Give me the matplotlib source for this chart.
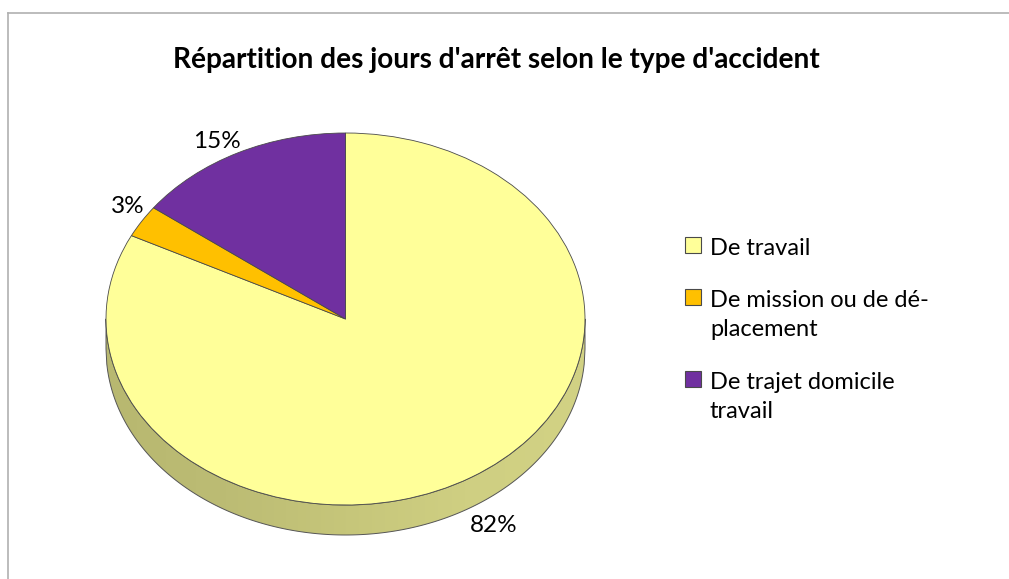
import numpy as np
import matplotlib
matplotlib.use("Agg")
import matplotlib.pyplot as plt
from matplotlib.patches import Rectangle
from matplotlib.colors import LinearSegmentedColormap

title = "Répartition des jours d'arrêt selon le type d'accident"
categories = ["De travail", "De mission ou de dé-\nplacement", "De trajet domicile\ntravail"]
values = [82.4, 2.8, 14.8]
colors = ["#ffff99", "#ffc000", "#7030a0"]

W, H = 1009, 579
CX, CY, RX, RY, DEPTH = 345.5, 319, 239.5, 186, 30


def px(x, y):
    # pixel position to figure fraction
    return x / W, 1 - y / H


plt.rcParams["font.family"] = ["Lato", "DejaVu Sans"]

fig = plt.figure(figsize=(W / 100, H / 100), dpi=100)
ax = fig.add_axes([0, 0, 1, 1])

# side of the pie, gradient clipped to the band under the top ellipse
xs = np.linspace(-1, 1, 600)
low = -np.sqrt(1 - xs ** 2)
d = DEPTH / RY
band = ax.fill_between(xs, low, low - d, facecolor="none", edgecolor="#555555", linewidth=0.7, zorder=1)
side_cmap = LinearSegmentedColormap.from_list("side", ["#b8b870", "#bcbc74", "#c6c67a", "#cfcf82", "#d2d284"])
grad = ax.imshow(np.linspace(0, 1, 256).reshape(1, -1), cmap=side_cmap, extent=[-1, 1, -1 - d, 0],
                 aspect="auto", zorder=0.5)
grad.set_clip_path(band.get_paths()[0], transform=ax.transData)

# top of the pie, clockwise from twelve o'clock
wedges, _ = ax.pie(values, colors=colors, startangle=90, counterclock=False, radius=1,
                   wedgeprops={"edgecolor": "#4a4a4a", "linewidth": 0.6, "zorder": 2})

ax.set_aspect("auto")
ax.set_xlim(-CX / RX, (W - CX) / RX)
ax.set_ylim((CY - H) / RY, CY / RY)
ax.axis("off")

# percent labels
label_pos = [(494, 526), (127.5, 207), (216.5, 141)]
for v, (x, y) in zip(values, label_pos):
    fx, fy = px(x, y)
    fig.text(fx, fy, f"{v:.0f}%", fontsize=17.5, ha="center", va="center", color="black")

# title
fx, fy = px(496.5, 60)
fig.text(fx, fy, title, fontsize=20.2, fontweight="bold", ha="center", va="center", color="black")

# legend
legend_y = [245, 297, 379]
for name, col, y in zip(categories, colors, legend_y):
    fx, fy = px(685, y + 8)
    fig.add_artist(Rectangle((fx, fy), 16 / W, 16 / H, transform=fig.transFigure,
                             facecolor=col, edgecolor="#4a4a4a", linewidth=0.8))
    fx, fy = px(710, y - 7)
    fig.text(fx, fy, name, fontsize=17, ha="left", va="top", color="black", linespacing=1.48)

# chart border, only top and left show up in the crop
fig.add_artist(plt.Line2D([8 / W, 8 / W], [0, 1 - 13 / H], color="#b0b0b0", linewidth=1.2))
fig.add_artist(plt.Line2D([8 / W, 1], [1 - 13 / H, 1 - 13 / H], color="#b0b0b0", linewidth=1.2))

fig.savefig("out.png", dpi=100, facecolor="white")
